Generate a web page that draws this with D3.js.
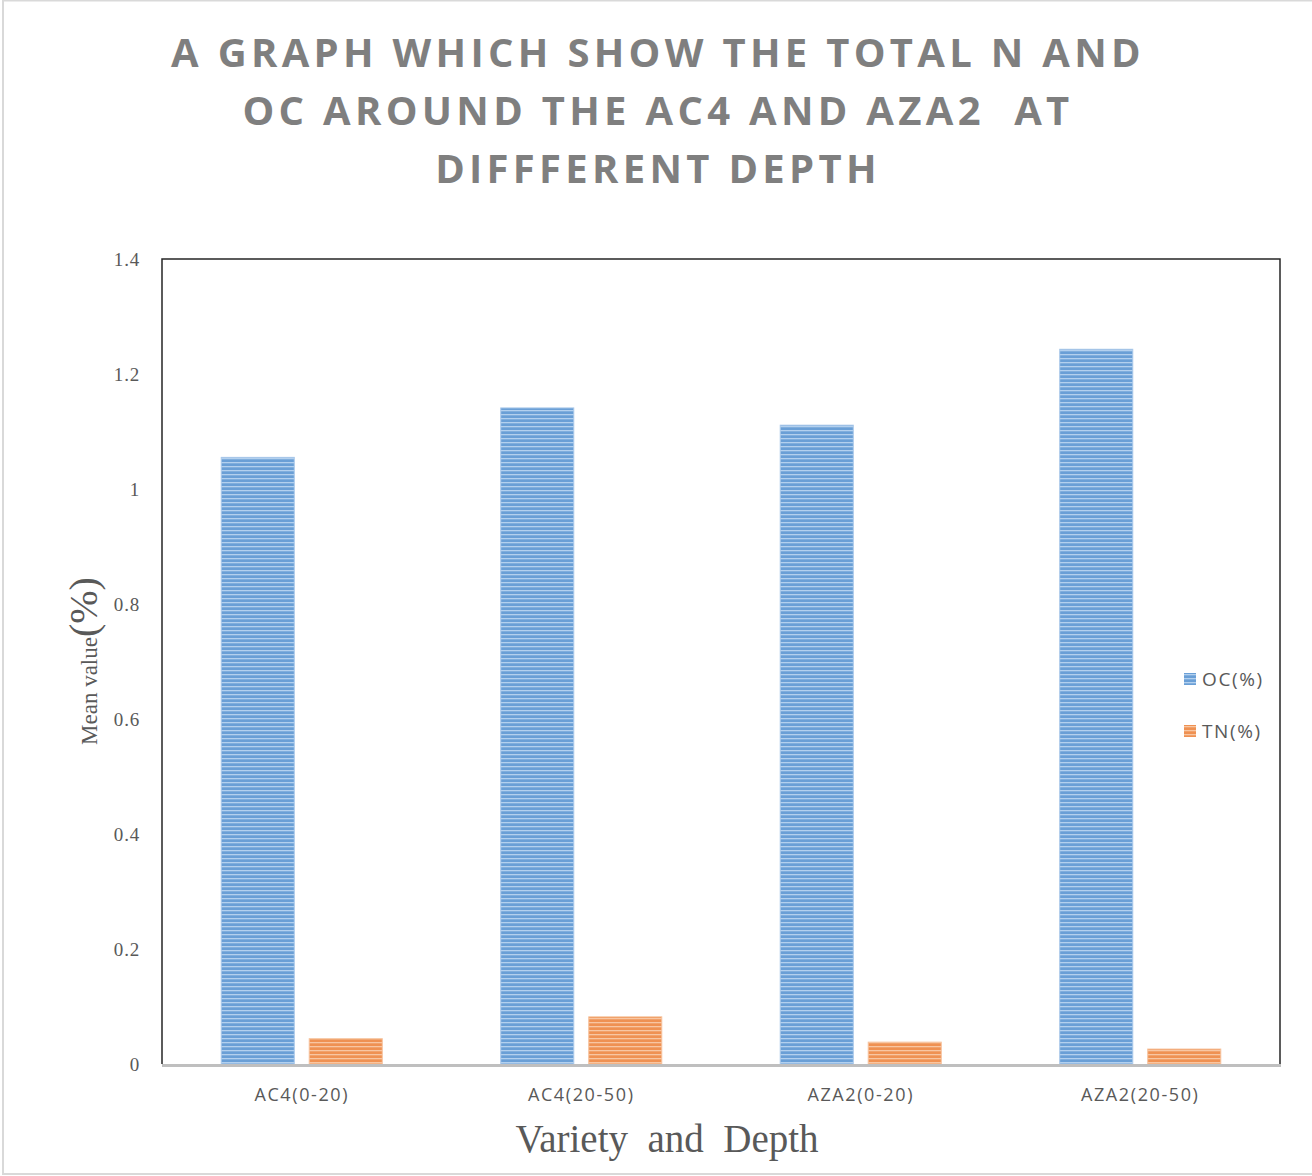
<!DOCTYPE html>
<html><head><meta charset="utf-8">
<script src="https://cdn.jsdelivr.net/npm/d3@7"></script>
<style>html,body{margin:0;padding:0;background:#fff}svg{display:block}</style>
</head><body>
<script>
const categories = ["AC4(0-20)", "AC4(20-50)", "AZA2(0-20)", "AZA2(20-50)"];
const seriesNames = ["OC(%)", "TN(%)"];
const ocValues = [1.055, 1.141, 1.111, 1.243];
const tnValues = [0.044, 0.082, 0.038, 0.026];
const yTicks = [0, 0.2, 0.4, 0.6, 0.8, 1, 1.2, 1.4];
const titleLines = ["A GRAPH WHICH SHOW THE TOTAL N AND", "OC AROUND THE AC4 AND AZA2  AT", "DIFFFERENT DEPTH"];

const W = 1312, H = 1176;
const svg = d3.select("body").append("svg").attr("width", W).attr("height", H);
const defs = svg.append("defs");
function stripe(id, base, light) {
  const p = defs.append("pattern").attr("id", id).attr("patternUnits", "userSpaceOnUse")
    .attr("width", 8).attr("height", 4);
  p.append("rect").attr("width", 8).attr("height", 4).attr("fill", base);
  p.append("rect").attr("y", 2).attr("width", 8).attr("height", 1.3).attr("fill", light);
}
stripe("pOC", "#6a9fd6", "#b3d0ee");
stripe("pTN", "#ef9152", "#f8c6a2");
const fills = ["url(#pOC)", "url(#pTN)"];
const edge = ["#a9c8ea", "#f6c29c"];

// outer border
svg.append("rect").attr("x", 3).attr("y", 0.5).attr("width", W - 2).attr("height", H - 2.5)
  .attr("fill", "none").attr("stroke", "#d9d9d9").attr("stroke-width", 2);

const m = {left: 162, right: 1280, top: 259, bottom: 1064};
const x0 = d3.scaleBand().domain(categories).range([m.left, m.right]).paddingInner(0).paddingOuter(0);
const x1 = d3.scaleBand().domain(seriesNames).range([0, x0.bandwidth()]).paddingInner(0.17).paddingOuter(0.673);
const y = d3.scaleLinear().domain([0, 1.4]).range([m.bottom, m.top]);

// title
const title = svg.append("text").attr("text-anchor", "middle")
  .attr("font-family", "'Open Sans', sans-serif").attr("font-weight", 700)
  .attr("font-size", 40).attr("fill", "#7f7f7f").attr("letter-spacing", 4.3);
titleLines.forEach((t, i) => {
  title.append("tspan").attr("x", 658).attr("y", 67 + i * 58).attr("xml:space", "preserve").text(t);
});

// bars
const data = categories.map((c, i) => ({c, vals: [ocValues[i], tnValues[i]]}));
const g = svg.append("g");
data.forEach(d => {
  d.vals.forEach((v, j) => {
    g.append("rect")
      .attr("x", x0(d.c) + x1(seriesNames[j]))
      .attr("y", y(v))
      .attr("width", x1.bandwidth())
      .attr("height", y(0) - y(v))
      .attr("fill", fills[j])
      .attr("stroke", edge[j]).attr("stroke-width", 1);
  });
});

// plot frame (left, top, right)
svg.append("path")
  .attr("d", `M${m.left},${m.bottom}V${m.top}H${m.right}V${m.bottom}`)
  .attr("fill", "none").attr("stroke", "#262626").attr("stroke-width", 1.5);

// x axis line
svg.append("line").attr("x1", m.left).attr("x2", m.right + 1)
  .attr("y1", m.bottom + 1.5).attr("y2", m.bottom + 1.5)
  .attr("stroke", "#bfbfbf").attr("stroke-width", 3);

// y axis
const yAxis = d3.axisLeft(y).tickValues(yTicks).tickSize(0).tickPadding(22)
  .tickFormat(d => d3.format("")(d));
const ya = svg.append("g").attr("transform", `translate(${m.left},0)`).call(yAxis);
ya.select(".domain").remove();
ya.selectAll("text").attr("font-family", "'Liberation Serif', serif").attr("font-size", 19)
  .attr("fill", "#595959").attr("dy", "0.32em").attr("letter-spacing", 0.8);

// x axis labels
const xAxis = d3.axisBottom(x0).tickSize(0).tickPadding(24);
const xa = svg.append("g").attr("transform", `translate(0,${m.bottom})`).call(xAxis);
xa.select(".domain").remove();
xa.selectAll("text").attr("font-family", "'Open Sans', sans-serif").attr("font-size", 18)
  .attr("fill", "#595959").attr("letter-spacing", 1.6);

// x title
svg.append("text").attr("x", 667).attr("y", 1152).attr("text-anchor", "middle")
  .attr("font-family", "'Liberation Serif', serif").attr("font-size", 39).attr("fill", "#595959")
  .attr("xml:space", "preserve").text("Variety  and  Depth");

// y title
const yt = svg.append("text").attr("transform", "translate(97,661) rotate(-90)")
  .attr("text-anchor", "middle").attr("font-family", "'Liberation Serif', serif").attr("fill", "#595959");
yt.append("tspan").attr("font-size", 23).text("Mean value");
yt.append("tspan").attr("font-size", 40).text("(%)");

// legend
const lg = svg.append("g");
seriesNames.forEach((s, i) => {
  const yy = 679 + i * 52;
  lg.append("rect").attr("x", 1184).attr("y", yy - 6).attr("width", 12).attr("height", 12)
    .attr("fill", fills[i]);
  lg.append("text").attr("x", 1202).attr("y", yy).attr("dy", "0.35em")
    .attr("font-family", "'Open Sans', sans-serif").attr("font-size", 19).attr("fill", "#595959")
    .attr("letter-spacing", 1.6).text(s);
});
</script>
</body></html>
